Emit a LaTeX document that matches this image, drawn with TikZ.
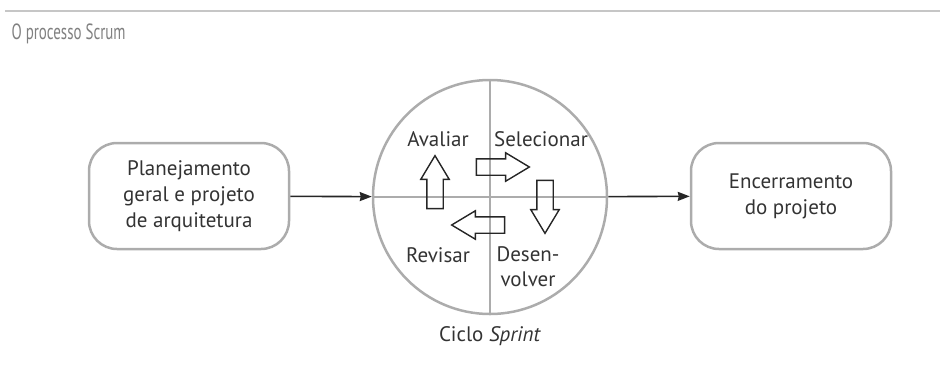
\documentclass[tikz,border=0pt]{standalone}
\usepackage{fontspec}
\setmainfont{PT Sans}
\newfontfamily\titulofont[FakeStretch=0.68]{PT Sans}
\usetikzlibrary{shapes.arrows,arrows.meta}

\begin{document}
\begin{tikzpicture}[x=1pt,y=-1pt,
    fase/.style={draw=gray!65,line width=2.5pt,rounded corners=28pt,minimum width=200pt,
      minimum height=106pt,align=center,text=black!80,font=\fontsize{21}{26}\selectfont},
    rotulo/.style={text=black!80,align=center,font=\fontsize{21}{25}\selectfont},
    seta/.style={single arrow,draw=black!85,line width=1.4pt,inner sep=7.5pt,
      single arrow head extend=6pt,single arrow tip angle=62,minimum height=53pt}]
  \useasboundingbox (0,0) rectangle (940,368);
  \draw[gray!45,line width=1.8pt] (5,11) -- (940,11);
  \node[anchor=west,text=gray,font=\titulofont\fontsize{22}{24}\selectfont] (titulo) at (8,34) {O processo Scrum};
  % fases
  \node[fase] (planejamento) at (189,196) {Planejamento\\geral e projeto\\de arquitetura};
  \node[fase] (encerramento) at (791,196) {Encerramento\\do projeto};
  % ciclo
  \node[circle,draw=gray!65,line width=2.5pt,minimum size=234pt] (ciclo) at (490,197) {};
  \draw[gray!65,line width=2.5pt] (ciclo.north) -- (ciclo.south) (ciclo.west) -- (ciclo.east);
  \node[rotulo] (avaliar) at (438,139) {Avaliar};
  \node[rotulo] (selecionar) at (541,139) {Selecionar};
  \node[rotulo] (revisar) at (438,255) {Revisar};
  \node[rotulo] (desenvolver) at (528,267) {Desen-\\volver};
  \node[seta] (s1) at (496,167) {};
  \node[seta,rotate=-90] (s2) at (545,200) {};
  \node[seta,rotate=180] (s3) at (485,225) {};
  \node[seta,rotate=90] (s4) at (435,189) {};
  \node[rotulo] (sprint) at (490,336) {Ciclo \textit{Sprint}};
  \draw[-{Stealth[length=12pt,width=9pt,inset=1pt]},line width=1.6pt,black!85] (planejamento) -- (ciclo);
  \draw[-{Stealth[length=12pt,width=9pt,inset=1pt]},line width=1.6pt,black!85] (ciclo) -- (encerramento);
\end{tikzpicture}
\end{document}
